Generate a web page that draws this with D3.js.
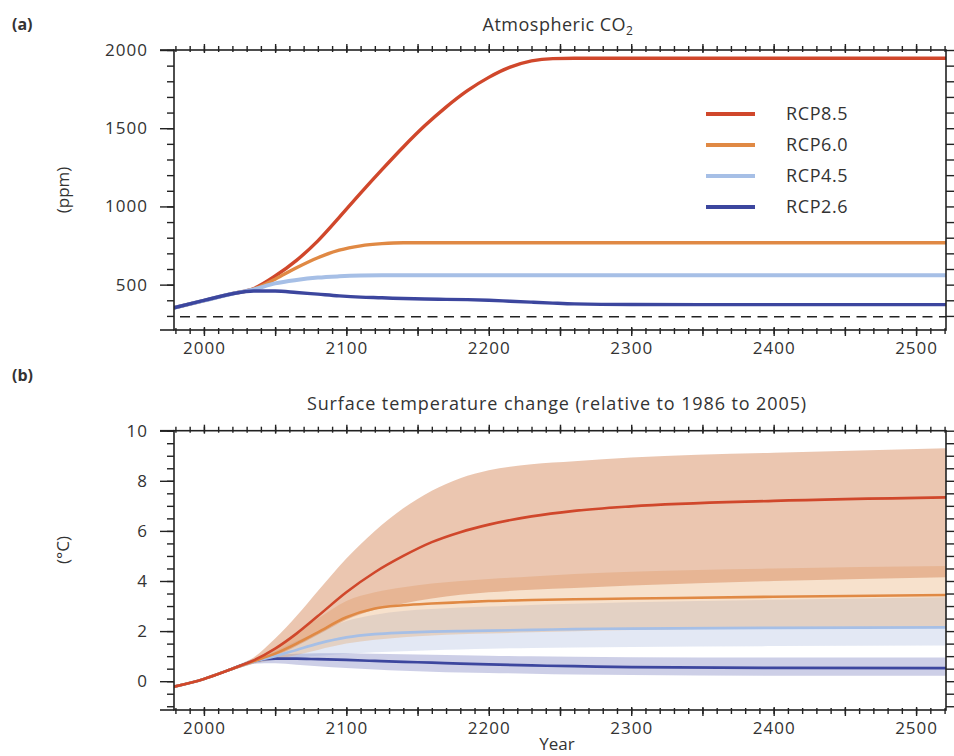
<!DOCTYPE html>
<html>
<head>
<meta charset="utf-8">
<script src="https://cdn.jsdelivr.net/npm/d3@7/dist/d3.min.js"></script>
<style>
  body { margin: 0; background: #fff; }
  svg text { font-family: 'Open Sans', sans-serif; fill: #333; }
  .frame { fill: none; stroke: #222; stroke-width: 1.6; }
  .axis line { stroke: #222; stroke-width: 1.4; }
  .axis .domain { display: none; }
  .axis text { letter-spacing: 1px; }
</style>
</head>
<body>
<svg id="chart" width="954" height="756"></svg>
<script>
// ---- data ----
const scenarios = ['RCP8.5', 'RCP6.0', 'RCP4.5', 'RCP2.6'];
const colors = ['#d0472b', '#e08944', '#a6bfe6', '#3c469e'];
const bandColors = ['#d2814f', '#e39a55', '#8ea4d4', '#5a5fb0'];

const xTickLabels = [2000, 2100, 2200, 2300, 2400, 2500];
const co2TickLabels = [500, 1000, 1500, 2000];
const tempTickLabels = [0, 2, 4, 6, 8, 10];
const preindustrialCo2 = 295;

const co2Years = [1979, 2000, 2020, 2035, 2050, 2065, 2080, 2095, 2110, 2125, 2140, 2155, 2170, 2185, 2200, 2215, 2230, 2245, 2260, 2300, 2400, 2521];
const co2Rcp85 = [352, 398, 442, 475, 555, 655, 780, 930, 1085, 1235, 1380, 1515, 1635, 1740, 1825, 1890, 1930, 1945, 1947, 1947, 1947, 1947];
const co2Rcp60 = [352, 398, 442, 472, 535, 608, 672, 720, 748, 762, 768, 768, 768, 768, 768, 768, 768, 768, 768, 768, 768, 768];
const co2Rcp45 = [352, 398, 442, 470, 508, 530, 545, 553, 558, 560, 560, 560, 560, 560, 560, 560, 560, 560, 560, 560, 560, 560];
const co2Rcp26 = [352, 399, 442, 459, 459, 450, 439, 428, 420, 416, 411, 408, 406, 404, 400, 394, 388, 382, 377, 373, 372, 372];

const tempYears = [1979, 2000, 2020, 2035, 2050, 2065, 2080, 2100, 2120, 2140, 2160, 2180, 2200, 2230, 2260, 2300, 2400, 2521];
const tempRcp85 = [-0.22, 0.09, 0.5, 0.83, 1.3, 1.9, 2.6, 3.55, 4.35, 5.0, 5.55, 5.95, 6.25, 6.58, 6.8, 6.98, 7.2, 7.34];
const tempRcp60 = [-0.22, 0.09, 0.5, 0.8, 1.1, 1.5, 1.95, 2.55, 2.9, 3.03, 3.1, 3.15, 3.2, 3.24, 3.27, 3.3, 3.37, 3.44];
const tempRcp45 = [-0.22, 0.09, 0.5, 0.78, 1.0, 1.25, 1.5, 1.75, 1.88, 1.94, 1.98, 2.0, 2.02, 2.05, 2.08, 2.1, 2.13, 2.15];
const tempRcp26 = [-0.22, 0.09, 0.5, 0.8, 0.9, 0.9, 0.88, 0.85, 0.81, 0.77, 0.74, 0.7, 0.67, 0.63, 0.6, 0.56, 0.53, 0.52];

const tempRcp85Hi = [-0.2, 0.12, 0.56, 0.95, 1.7, 2.6, 3.6, 4.9, 6.0, 6.9, 7.6, 8.1, 8.42, 8.66, 8.78, 8.93, 9.12, 9.3];
const tempRcp85Lo = [-0.25, 0.06, 0.44, 0.72, 1.0, 1.4, 1.85, 2.45, 2.85, 3.1, 3.3, 3.45, 3.55, 3.65, 3.72, 3.82, 4.0, 4.15];
const tempRcp60Hi = [-0.2, 0.12, 0.56, 0.9, 1.35, 1.95, 2.5, 3.2, 3.55, 3.75, 3.9, 4.0, 4.08, 4.18, 4.28, 4.37, 4.5, 4.6];
const tempRcp60Lo = [-0.25, 0.06, 0.44, 0.7, 0.88, 1.05, 1.25, 1.5, 1.65, 1.75, 1.82, 1.87, 1.9, 1.95, 1.99, 2.04, 2.12, 2.18];
const tempRcp45Hi = [-0.2, 0.12, 0.56, 0.88, 1.2, 1.6, 1.95, 2.4, 2.65, 2.8, 2.88, 2.94, 2.98, 3.04, 3.09, 3.15, 3.25, 3.35];
const tempRcp45Lo = [-0.25, 0.06, 0.44, 0.7, 0.85, 0.95, 1.02, 1.1, 1.16, 1.2, 1.24, 1.27, 1.3, 1.33, 1.35, 1.37, 1.4, 1.42];
const tempRcp26Hi = [-0.2, 0.12, 0.56, 0.9, 1.05, 1.1, 1.12, 1.12, 1.1, 1.08, 1.06, 1.04, 1.02, 1.0, 0.98, 0.96, 0.95, 0.95];
const tempRcp26Lo = [-0.25, 0.06, 0.44, 0.7, 0.72, 0.66, 0.6, 0.53, 0.47, 0.42, 0.38, 0.35, 0.33, 0.3, 0.27, 0.25, 0.22, 0.22];

// ---- layout ----
const svg = d3.select('#chart');
const plotLeft = 174, plotRight = 946;
const x = d3.scaleLinear().domain([1979, 2521]).range([plotLeft, plotRight]);

// draws frame, ticks and tick labels of one panel
function drawAxes(g, y, top, bottom, minorY, majorY) {
  g.append('rect').attr('class', 'frame')
    .attr('x', plotLeft).attr('y', top)
    .attr('width', plotRight - plotLeft).attr('height', bottom - top);

  // top / bottom lines run a bit to the left of the frame
  [top, bottom].forEach(yy => {
    g.append('line').attr('x1', plotLeft - 14).attr('x2', plotLeft)
      .attr('y1', yy).attr('y2', yy).attr('stroke', '#222').attr('stroke-width', 1.6);
  });

  const minorYears = d3.range(1980, 2521, 10);
  const midYears = d3.range(2000, 2521, 50);

  const bottomMinor = g.append('g').attr('class', 'axis').attr('transform', `translate(0,${bottom})`)
    .call(d3.axisBottom(x).tickValues(minorYears).tickSize(4).tickFormat(''));
  bottomMinor.selectAll('.tick line').attr('y1', -2);
  const bottomMid = g.append('g').attr('class', 'axis').attr('transform', `translate(0,${bottom})`)
    .call(d3.axisBottom(x).tickValues(midYears).tickSize(6).tickFormat(''));
  bottomMid.selectAll('.tick line').attr('y1', -3);
  g.append('g').attr('class', 'axis').attr('transform', `translate(0,${bottom})`)
    .call(d3.axisBottom(x).tickValues(xTickLabels).tickSize(0).tickPadding(12).tickFormat(d3.format('d')))
    .attr('font-size', 17);

  const topMinor = g.append('g').attr('class', 'axis').attr('transform', `translate(0,${top})`)
    .call(d3.axisTop(x).tickValues(minorYears).tickSize(4).tickFormat(''));
  topMinor.selectAll('.tick line').attr('y1', 2);
  const topMid = g.append('g').attr('class', 'axis').attr('transform', `translate(0,${top})`)
    .call(d3.axisTop(x).tickValues(midYears).tickSize(6).tickFormat(''));
  topMid.selectAll('.tick line').attr('y1', 3);

  g.append('g').attr('class', 'axis').attr('transform', `translate(${plotLeft},0)`)
    .call(d3.axisLeft(y).tickValues(minorY).tickSize(7).tickFormat(''));
  g.append('g').attr('class', 'axis').attr('transform', `translate(${plotLeft},0)`)
    .call(d3.axisLeft(y).tickValues(majorY).tickSize(14).tickPadding(12).tickFormat(d3.format('d')))
    .attr('font-size', 17);
  g.append('g').attr('class', 'axis').attr('transform', `translate(${plotRight},0)`)
    .call(d3.axisRight(y).tickValues(minorY).tickSize(8).tickFormat(''));
}

function addClip(id, top, bottom) {
  svg.append('clipPath').attr('id', id).append('rect')
    .attr('x', plotLeft).attr('y', top)
    .attr('width', plotRight - plotLeft).attr('height', bottom - top);
}

// ---- panel (a): atmospheric CO2 ----
const topA = 50, bottomA = 330;
const yA = d3.scaleLinear().domain([210, 2000]).range([bottomA, topA]);
addClip('clipA', topA, bottomA);

const panelA = svg.append('g');
const marksA = panelA.append('g').attr('clip-path', 'url(#clipA)');

marksA.append('line')
  .attr('x1', plotLeft).attr('x2', plotRight)
  .attr('y1', yA(preindustrialCo2)).attr('y2', yA(preindustrialCo2))
  .attr('stroke', '#222').attr('stroke-width', 1.5)
  .attr('stroke-dasharray', '10,6.5').attr('stroke-dashoffset', -6);

const co2Series = [co2Rcp85, co2Rcp60, co2Rcp45, co2Rcp26];
const lineA = d3.line().x((d, i) => x(co2Years[i])).y(d => yA(d)).curve(d3.curveMonotoneX);
co2Series.forEach((s, k) => {
  marksA.append('path').attr('d', lineA(s))
    .attr('fill', 'none').attr('stroke', colors[k])
    .attr('stroke-width', k === 2 ? 4 : 3.4).attr('stroke-linejoin', 'round');
});

drawAxes(panelA, yA, topA, bottomA, d3.range(300, 2001, 100), co2TickLabels);

// legend
const legendY = d3.scalePoint().domain(scenarios).range([114, 207]);
const legend = panelA.append('g');
scenarios.forEach((name, k) => {
  legend.append('line')
    .attr('x1', 706).attr('x2', 755)
    .attr('y1', legendY(name)).attr('y2', legendY(name))
    .attr('stroke', colors[k]).attr('stroke-width', 4);
  legend.append('text')
    .attr('x', 786).attr('y', legendY(name)).attr('dy', '0.35em')
    .attr('font-size', 18).attr('letter-spacing', 0.6).text(name);
});

const titleA = panelA.append('text').attr('x', 558).attr('y', 31)
  .attr('text-anchor', 'middle').attr('font-size', 18).attr('letter-spacing', 0.5);
titleA.append('tspan').text('Atmospheric CO');
titleA.append('tspan').attr('font-size', 12).attr('dy', 4).text('2');

panelA.append('text').attr('x', 12).attr('y', 30)
  .attr('font-size', 16).attr('font-weight', 'bold').text('(a)');
panelA.append('text')
  .attr('transform', `translate(69,${(topA + bottomA) / 2}) rotate(-90)`)
  .attr('text-anchor', 'middle').attr('font-size', 17).text('(ppm)');

// ---- panel (b): surface temperature change ----
const topB = 430.7, bottomB = 710;
const yB = d3.scaleLinear().domain([-1.15, 10]).range([bottomB, topB]);
addClip('clipB', topB, bottomB);

const panelB = svg.append('g');
const marksB = panelB.append('g').attr('clip-path', 'url(#clipB)');

const bandsB = [
  [tempRcp26Lo, tempRcp26Hi],
  [tempRcp45Lo, tempRcp45Hi],
  [tempRcp60Lo, tempRcp60Hi],
  [tempRcp85Lo, tempRcp85Hi]
];
const bandOrder = [3, 2, 1, 0];
const areaB = d3.area()
  .x(d => x(d[0]))
  .y0(d => yB(d[1]))
  .y1(d => yB(d[2]))
  .curve(d3.curveMonotoneX);
const bandOpacity = [0.45, 0.3, 0.25, 0.3];
bandsB.forEach((b, j) => {
  const k = bandOrder[j];
  const rows = tempYears.map((yr, i) => [yr, b[0][i], b[1][i]]);
  marksB.append('path').attr('d', areaB(rows))
    .attr('fill', bandColors[k]).attr('fill-opacity', bandOpacity[k]);
});

const tempSeries = [tempRcp85, tempRcp60, tempRcp45, tempRcp26];
const lineB = d3.line().x((d, i) => x(tempYears[i])).y(d => yB(d)).curve(d3.curveMonotoneX);
[3, 2, 1, 0].forEach(k => {
  marksB.append('path').attr('d', lineB(tempSeries[k]))
    .attr('fill', 'none').attr('stroke', colors[k])
    .attr('stroke-width', 2.6).attr('stroke-linejoin', 'round');
});

drawAxes(panelB, yB, topB, bottomB, d3.range(-1, 10.01, 0.5), tempTickLabels);

panelB.append('text').attr('x', 557).attr('y', 410)
  .attr('text-anchor', 'middle').attr('font-size', 18).attr('letter-spacing', 0.9)
  .text('Surface temperature change (relative to 1986 to 2005)');
panelB.append('text').attr('x', 12).attr('y', 381)
  .attr('font-size', 16).attr('font-weight', 'bold').text('(b)');
panelB.append('text')
  .attr('transform', `translate(69,550) rotate(-90)`)
  .attr('text-anchor', 'middle').attr('font-size', 17).text('(°C)');
panelB.append('text').attr('x', 557).attr('y', 750)
  .attr('text-anchor', 'middle').attr('font-size', 17).text('Year');
</script>
</body>
</html>
